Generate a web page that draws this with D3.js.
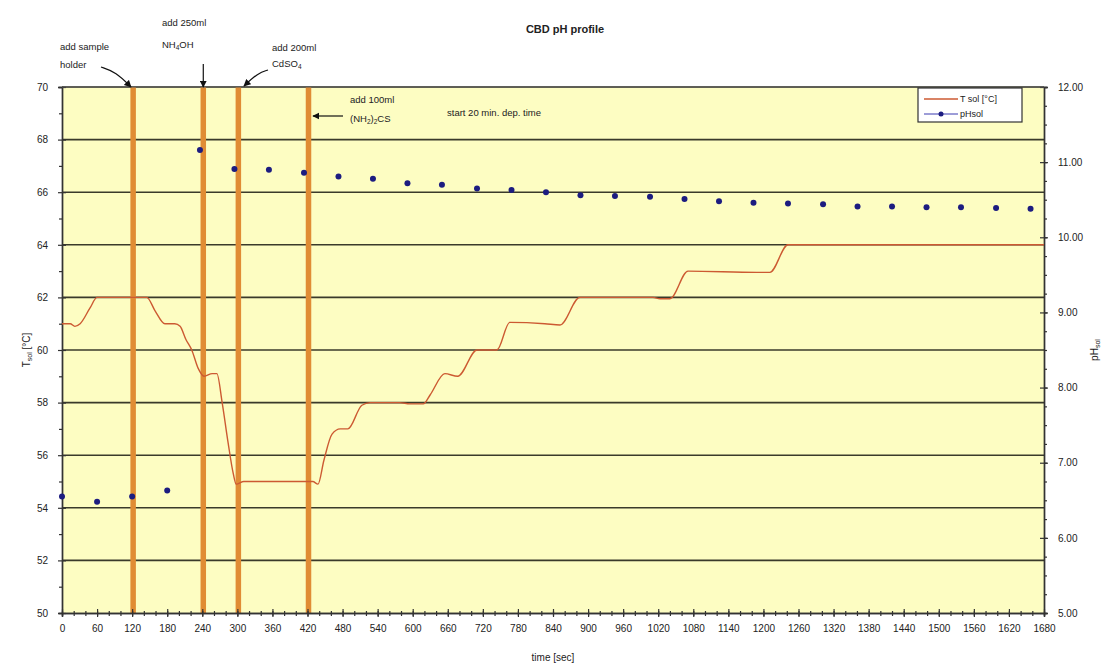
<!DOCTYPE html>
<html>
<head>
<meta charset="utf-8">
<script src="https://cdn.jsdelivr.net/npm/d3@7"></script>
<style>
  html, body { margin: 0; padding: 0; background: #fff; }
  svg { display: block; font-family: "Liberation Sans", Arial, sans-serif; }
</style>
</head>
<body>
<svg id="chart" width="1116" height="667"></svg>
<script>
// Solution temperature during the chemical bath deposition run: [time s, T °C]
const tempTime = [0, 14, 22, 31, 48, 60, 74, 145, 159, 176, 193, 202, 212, 222, 233, 243, 257, 265, 274, 284, 293, 298, 311, 429, 438, 448, 462, 476, 489, 513, 527, 578, 595, 618, 630, 655, 677, 710, 744, 766, 826, 852, 886, 1011, 1023, 1040, 1071, 1189, 1211, 1242, 1680];
const tempVal  = [61.0, 61.0, 60.9, 61.0, 61.6, 62.0, 62.0, 62.0, 61.5, 61.0, 61.0, 60.9, 60.4, 60.0, 59.3, 59.0, 59.1, 59.1, 58.0, 56.5, 55.3, 54.9, 55.0, 55.0, 54.9, 55.8, 56.8, 57.0, 57.0, 57.9, 58.0, 58.0, 57.95, 57.95, 58.3, 59.1, 59.0, 60.0, 60.0, 61.05, 61.0, 60.95, 62.0, 62.0, 61.95, 61.95, 63.0, 62.95, 62.95, 64.0, 64.0];

// Measured pH of the solution: [time s, pH]
const phTime = [0, 60, 120, 180, 236, 295, 354, 414, 473, 532, 591, 650, 710, 769, 828, 887, 946, 1006, 1065, 1124, 1183, 1242, 1302, 1361, 1420, 1479, 1538, 1598, 1657];
const phVal  = [6.55, 6.48, 6.55, 6.63, 11.16, 10.91, 10.90, 10.86, 10.81, 10.78, 10.72, 10.70, 10.65, 10.63, 10.60, 10.56, 10.55, 10.54, 10.51, 10.48, 10.46, 10.45, 10.44, 10.41, 10.41, 10.40, 10.40, 10.39, 10.38];

// Times at which reagents were added (s)
const eventTimes = [120, 240, 300, 420];

// Axis ticks
const xTicks = d3.range(0, 1681, 60);
const tTicks = [50, 52, 54, 56, 58, 60, 62, 64, 66, 68, 70];
const phTicks = [5, 6, 7, 8, 9, 10, 11, 12];

const svg = d3.select("#chart");
const L = 62, R = 1044, T = 87, B = 613;

const x = d3.scaleLinear().domain([0, 1680]).range([L, R]);
const yT = d3.scaleLinear().domain([50, 70]).range([B, T]);
const yP = d3.scaleLinear().domain([5, 12]).range([B, T]);

// plot area
svg.append("rect").attr("x", L).attr("y", T).attr("width", R - L).attr("height", B - T)
  .attr("fill", "#fdfdc2");

// horizontal gridlines
svg.append("g").selectAll("line").data(tTicks.slice(1)).join("line")
  .attr("x1", L).attr("x2", R).attr("y1", d => yT(d)).attr("y2", d => yT(d))
  .attr("stroke", "#3a3a2a").attr("stroke-width", 1.6);

// reagent addition markers
svg.append("g").selectAll("line").data(eventTimes).join("line")
  .attr("x1", d => x(d) + 1).attr("x2", d => x(d) + 1)
  .attr("y1", T).attr("y2", B)
  .attr("stroke", "#e08c34").attr("stroke-width", 5.5);

// axes
const fmt2 = d3.format(".2f");
const gx = svg.append("g").attr("transform", `translate(0,${B})`)
  .call(d3.axisBottom(x).tickValues(xTicks).tickSize(4).tickPadding(8).tickFormat(d3.format("d")));
const gxm = svg.append("g").attr("transform", `translate(0,${B})`)
  .call(d3.axisBottom(x).tickValues(d3.range(0, 1681, 20)).tickSize(3).tickFormat(""));
const gl = svg.append("g").attr("transform", `translate(${L},0)`)
  .call(d3.axisLeft(yT).tickValues(tTicks).tickSize(4).tickPadding(10).tickFormat(d3.format("d")));
const glm = svg.append("g").attr("transform", `translate(${L},0)`)
  .call(d3.axisLeft(yT).tickValues(d3.range(51, 70, 2)).tickSize(3).tickFormat(""));
const gr = svg.append("g").attr("transform", `translate(${R},0)`)
  .call(d3.axisRight(yP).tickValues(phTicks).tickSize(4).tickPadding(10).tickFormat(fmt2));
const grm = svg.append("g").attr("transform", `translate(${R},0)`)
  .call(d3.axisRight(yP).tickValues(d3.range(5, 12.01, 0.25)).tickSize(3).tickFormat(""));

[gx, gxm, gl, glm, gr, grm].forEach(g => {
  g.select(".domain").attr("stroke", "#333").attr("stroke-width", 1.4);
  g.selectAll(".tick line").attr("stroke", "#333").attr("stroke-width", 1.2);
  g.selectAll(".tick text").attr("fill", "#222").attr("font-size", 10);
});
// cross the major ticks over the axis lines
gx.selectAll(".tick line").attr("y1", -4);
gl.selectAll(".tick line").attr("x1", 4);
gr.selectAll(".tick line").attr("x1", -4);
gxm.selectAll(".tick line").attr("y1", -2);

// top border
svg.append("line").attr("x1", L).attr("x2", R).attr("y1", T).attr("y2", T)
  .attr("stroke", "#555").attr("stroke-width", 1.2);

// temperature line
const tempData = tempTime.map((t, i) => [t, tempVal[i]]);
svg.append("path").datum(tempData)
  .attr("fill", "none").attr("stroke", "#cc5a32").attr("stroke-width", 1.4)
  .attr("d", d3.line().x(d => x(d[0])).y(d => yT(d[1])).curve(d3.curveMonotoneX));

// pH points
const phData = phTime.map((t, i) => [t, phVal[i]]);
svg.append("g").selectAll("circle").data(phData).join("circle")
  .attr("cx", d => x(d[0])).attr("cy", d => yP(d[1])).attr("r", 3)
  .attr("fill", "#1c1c80");

// titles
svg.append("text").attr("x", 565).attr("y", 33).attr("text-anchor", "middle")
  .attr("font-size", 11).attr("font-weight", "bold").attr("fill", "#222").text("CBD pH profile");
svg.append("text").attr("x", 553).attr("y", 661).attr("text-anchor", "middle")
  .attr("font-size", 10).attr("fill", "#222").text("time [sec]");

const yl = svg.append("text").attr("transform", "translate(30,350) rotate(-90)")
  .attr("text-anchor", "middle").attr("font-size", 10).attr("fill", "#222");
yl.append("tspan").text("T");
yl.append("tspan").attr("font-size", 7).attr("dy", 2).text("sol");
yl.append("tspan").attr("dy", -2).text(" [°C]");

const yr = svg.append("text").attr("transform", "translate(1098,350) rotate(-90)")
  .attr("text-anchor", "middle").attr("font-size", 10).attr("fill", "#222");
yr.append("tspan").text("pH");
yr.append("tspan").attr("font-size", 7).attr("dy", 2).text("sol");

// legend
const lg = svg.append("g");
lg.append("rect").attr("x", 918).attr("y", 88).attr("width", 104).attr("height", 34)
  .attr("fill", "#fff").attr("stroke", "#333").attr("stroke-width", 1.2);
lg.append("line").attr("x1", 924).attr("x2", 958).attr("y1", 99).attr("y2", 99)
  .attr("stroke", "#cc5a32").attr("stroke-width", 1.4);
lg.append("text").attr("x", 960).attr("y", 102).attr("font-size", 9).attr("fill", "#222").text("T sol [°C]");
lg.append("line").attr("x1", 924).attr("x2", 958).attr("y1", 114).attr("y2", 114)
  .attr("stroke", "#3a3ab0").attr("stroke-width", 1);
lg.append("circle").attr("cx", 941).attr("cy", 114).attr("r", 2.5).attr("fill", "#1c1c80");
lg.append("text").attr("x", 960).attr("y", 117).attr("font-size", 9).attr("fill", "#222").text("pHsol");

// annotations
svg.append("defs").append("marker").attr("id", "ah")
  .attr("viewBox", "0 0 10 10").attr("refX", 9).attr("refY", 5)
  .attr("markerWidth", 6).attr("markerHeight", 6).attr("orient", "auto")
  .append("path").attr("d", "M0,0 L10,5 L0,10 z").attr("fill", "#111");

function note(lines, tx, ty, dy) {
  const t = svg.append("text").attr("font-size", 9.5).attr("fill", "#222");
  lines.forEach((ln, i) => {
    const row = t.append("tspan").attr("x", tx).attr("y", ty + i * dy);
    ln.forEach(part => {
      const s = row.append("tspan").text(part.t);
      if (part.sub) s.attr("font-size", 6.5).attr("dy", 2);
      if (part.up) s.attr("dy", -2);
    });
  });
}
function arrow(pts) {
  svg.append("path").attr("d", d3.line().curve(d3.curveBasis)(pts))
    .attr("fill", "none").attr("stroke", "#111").attr("stroke-width", 1.2)
    .attr("marker-end", "url(#ah)");
}

note([[{t: "add sample"}], [{t: "holder"}]], 60, 50, 18);
arrow([[101, 67], [116, 72], [131, 87]]);

note([[{t: "add 250ml"}], [{t: "NH"}, {t: "4", sub: true}, {t: "OH", up: true}]], 162, 26, 22);
arrow([[x(240) + 1, 64], [x(240) + 1, 87]]);

note([[{t: "add 200ml"}], [{t: "CdSO"}, {t: "4", sub: true}]], 272, 51, 16);
arrow([[268, 70], [258, 73], [244, 86]]);

note([[{t: "add 100ml"}], [{t: "(NH"}, {t: "2", sub: true}, {t: ")", up: true}, {t: "2", sub: true}, {t: "CS", up: true}]], 350, 103, 19);
arrow([[343, 116], [313, 116]]);

svg.append("text").attr("x", 447).attr("y", 116).attr("font-size", 9.5).attr("fill", "#222")
  .text("start 20 min. dep. time");
</script>
</body>
</html>
